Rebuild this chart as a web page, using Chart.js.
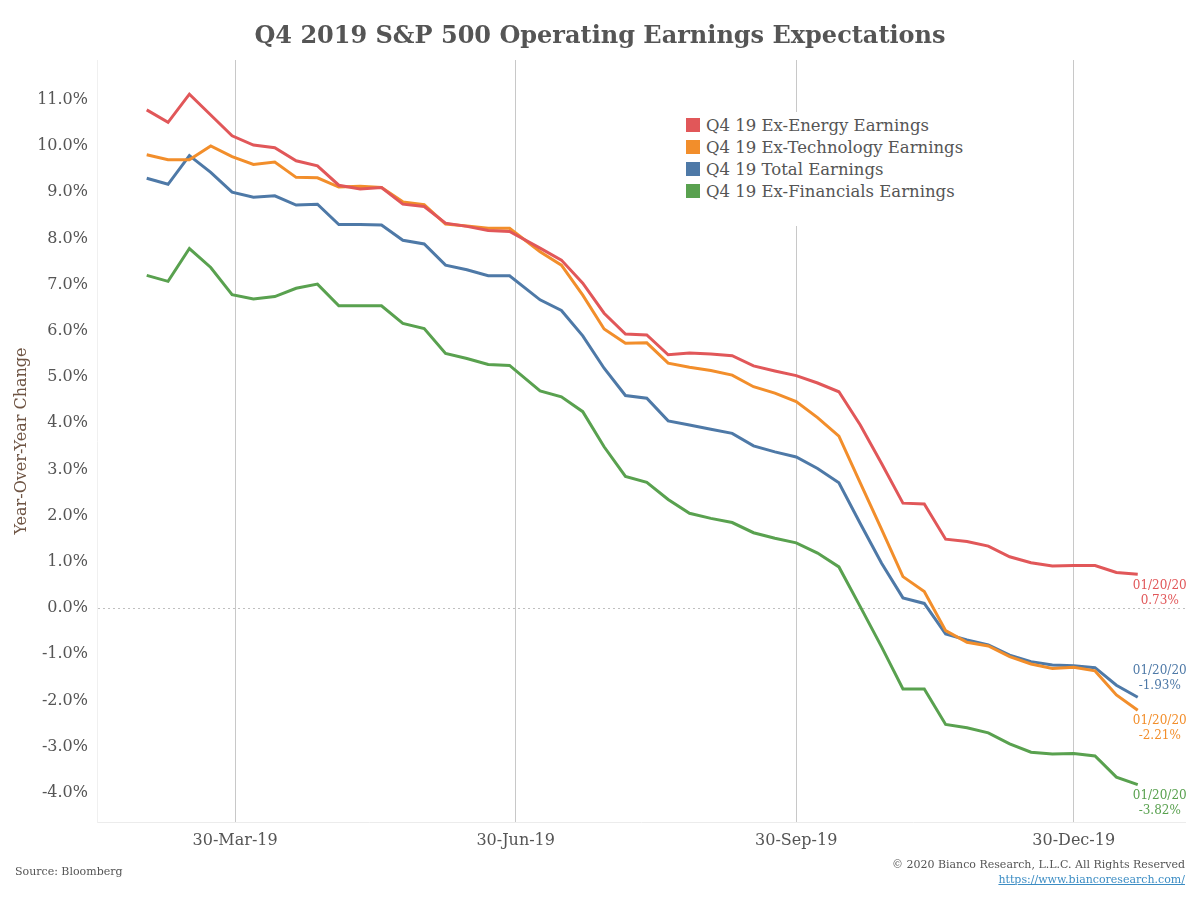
<!DOCTYPE html>
<html>
<head>
<meta charset="utf-8">
<title>Q4 2019 S&amp;P 500 Operating Earnings Expectations</title>
<script src="https://cdn.jsdelivr.net/npm/chart.js@4"></script>
<style>
  body { margin: 0; background: #fff; }
  #wrap { position: relative; width: 1200px; height: 900px; font-family: 'DejaVu Serif', serif; color: #555; }
  #title { position: absolute; top: 20px; left: 0; width: 1200px; line-height: 30px; text-align: center;
           font-weight: bold; font-size: 24px; color: #555; }
  #legend { position: absolute; left: 680px; top: 112px; width: 300px; height: 112px; background: #fff; padding-top: 2px; }
  .item { display: flex; align-items: center; height: 22px; font-size: 16.5px; margin-left: 6px; color: #555; }
  .sw { width: 14px; height: 14px; margin-right: 6px; }
  #source { position: absolute; left: 15px; top: 865px; font-size: 11px; color: #555; }
  #copy { position: absolute; right: 15px; top: 857px; font-size: 11px; color: #555; text-align: right; line-height: 15px; }
  #copy a { color: #3c8dc4; }
</style>
</head>
<body>
<div id="wrap">
  <canvas id="chart" width="1200" height="900"></canvas>
  <div id="title">Q4 2019 S&amp;P 500 Operating Earnings Expectations</div>
  <div id="legend"></div>
  <div id="source">Source: Bloomberg</div>
  <div id="copy">© 2020 Bianco Research, L.L.C. All Rights Reserved<br><a href="#">https://www.biancoresearch.com/</a></div>
</div>
<script>
// --- DONNÉES ---
const dates = [
  '2019-03-01', '2019-03-08', '2019-03-15', '2019-03-22', '2019-03-29', '2019-04-05', '2019-04-12', '2019-04-19',
  '2019-04-26', '2019-05-03', '2019-05-10', '2019-05-17', '2019-05-24', '2019-05-31', '2019-06-07', '2019-06-14',
  '2019-06-21', '2019-06-28', '2019-07-08', '2019-07-15', '2019-07-22', '2019-07-29', '2019-08-05', '2019-08-12',
  '2019-08-19', '2019-08-26', '2019-09-02', '2019-09-09', '2019-09-16', '2019-09-23', '2019-09-30', '2019-10-07',
  '2019-10-14', '2019-10-21', '2019-10-28', '2019-11-04', '2019-11-11', '2019-11-18', '2019-11-25', '2019-12-02',
  '2019-12-09', '2019-12-16', '2019-12-23', '2019-12-30', '2020-01-06', '2020-01-13', '2020-01-20'
];

const exEnergy = [
  10.78, 10.51, 11.12, 10.67, 10.22, 10.02, 9.96, 9.68, 9.57, 9.15, 9.07, 9.10, 8.74, 8.69, 8.33,
  8.26, 8.17, 8.15, 7.79, 7.53, 7.03, 6.38, 5.93, 5.91, 5.48, 5.52, 5.50, 5.46, 5.24, 5.13, 5.03, 4.87,
  4.68, 3.96, 3.13, 2.27, 2.25, 1.49, 1.44, 1.34, 1.11, 0.98, 0.91, 0.92, 0.92, 0.77, 0.73
];
const exTech = [
  9.81, 9.70, 9.70, 10.00, 9.77, 9.60, 9.65, 9.32, 9.31, 9.11, 9.13, 9.10, 8.79, 8.73, 8.31,
  8.27, 8.22, 8.22, 7.71, 7.42, 6.77, 6.04, 5.73, 5.74, 5.30, 5.21, 5.14, 5.04, 4.79, 4.65, 4.47, 4.12,
  3.72, 2.71, 1.70, 0.68, 0.36, -0.49, -0.74, -0.82, -1.05, -1.21, -1.31, -1.28, -1.36, -1.88, -2.21
];
const total = [
  9.30, 9.17, 9.79, 9.43, 9.00, 8.89, 8.92, 8.72, 8.74, 8.30, 8.30, 8.29, 7.96, 7.88, 7.42,
  7.32, 7.19, 7.19, 6.67, 6.44, 5.89, 5.19, 4.60, 4.54, 4.05, 3.96, 3.87, 3.78, 3.51, 3.38, 3.27, 3.02,
  2.71, 1.83, 0.97, 0.22, 0.10, -0.56, -0.69, -0.80, -1.02, -1.16, -1.23, -1.25, -1.29, -1.67, -1.93
];
const exFin = [
  7.20, 7.07, 7.78, 7.37, 6.78, 6.69, 6.74, 6.92, 7.01, 6.54, 6.54, 6.54, 6.16, 6.05, 5.51,
  5.40, 5.27, 5.25, 4.70, 4.57, 4.25, 3.49, 2.85, 2.72, 2.35, 2.05, 1.94, 1.85, 1.63, 1.51, 1.41, 1.19,
  0.89, 0.03, -0.84, -1.75, -1.75, -2.52, -2.59, -2.70, -2.94, -3.12, -3.16, -3.15, -3.20, -3.66, -3.82
];

const seriesNames = ['Q4 19 Ex-Energy Earnings', 'Q4 19 Ex-Technology Earnings', 'Q4 19 Total Earnings', 'Q4 19 Ex-Financials Earnings'];
const seriesValues = [exEnergy, exTech, total, exFin];
const seriesColors = ['#e15759', '#f28e2b', '#4e79a7', '#59a14f'];

const xTickDates = ['2019-03-30', '2019-06-30', '2019-09-30', '2019-12-30'];
const xTickLabels = ['30-Mar-19', '30-Jun-19', '30-Sep-19', '30-Dec-19'];
const yTicks = [-4, -3, -2, -1, 0, 1, 2, 3, 4, 5, 6, 7, 8, 9, 10, 11];
const endDateLabel = '01/20/20';

// décalage vertical des étiquettes de fin (bleu au-dessus pour éviter l'orange)
const endLabelShift = [12, 11, -26, 11];

// jours depuis le 1er janvier 2019
function dayNum(s) {
  const [y, m, d] = s.split('-').map(Number);
  return (Date.UTC(y, m - 1, d) - Date.UTC(2019, 0, 1)) / 86400000;
}

const SERIF = "'DejaVu Serif', serif";

// --- LÉGENDE ---
const legend = document.getElementById('legend');
seriesNames.forEach((name, k) => {
  const row = document.createElement('div');
  row.className = 'item';
  row.innerHTML = `<span class="sw" style="background:${seriesColors[k]}"></span>${name}`;
  legend.appendChild(row);
});

// --- ÉTIQUETTES DE FIN ---
const endLabels = {
  id: 'endLabels',
  afterDatasetsDraw(chart) {
    const ctx = chart.ctx;
    ctx.save();
    ctx.font = `12px ${SERIF}`;
    ctx.textAlign = 'center';
    ctx.textBaseline = 'middle';
    chart.data.datasets.forEach((ds, k) => {
      const meta = chart.getDatasetMeta(k);
      const pt = meta.data[meta.data.length - 1];
      const last = ds.data[ds.data.length - 1].y;
      ctx.fillStyle = seriesColors[k];
      ctx.fillText(endDateLabel, pt.x + 22, pt.y + endLabelShift[k]);
      ctx.fillText(last.toFixed(2) + '%', pt.x + 22, pt.y + endLabelShift[k] + 15);
    });
    ctx.restore();
  }
};

// --- CHART ---
new Chart(document.getElementById('chart'), {
  type: 'line',
  data: {
    datasets: seriesValues.map((vals, k) => ({
      label: seriesNames[k],
      data: dates.map((d, i) => ({ x: dayNum(d), y: vals[i] })),
      borderColor: seriesColors[k],
      backgroundColor: seriesColors[k],
      borderWidth: 3,
      pointRadius: 0,
      tension: 0
    }))
  },
  options: {
    responsive: false,
    animation: false,
    layout: { padding: { top: 60, right: 15, bottom: 0, left: 0 } },
    plugins: { legend: { display: false }, tooltip: { enabled: false } },
    scales: {
      x: {
        type: 'linear',
        min: 42.7,
        max: 399.5,
        afterBuildTicks: (scale) => { scale.ticks = xTickDates.map(d => ({ value: dayNum(d) })); },
        afterFit: (scale) => { scale.height = 78; },
        ticks: {
          padding: 9,
          color: '#555',
          font: { family: SERIF, size: 16 },
          maxRotation: 0,
          callback: (v, i) => xTickLabels[i]
        },
        grid: { color: '#c8c8c8', lineWidth: 1, drawTicks: false },
        border: { display: true, color: '#ececec' }
      },
      y: {
        min: -4.63,
        max: 11.86,
        afterBuildTicks: (scale) => { scale.ticks = yTicks.map(v => ({ value: v })); },
        afterFit: (scale) => { scale.width = 97; },
        ticks: {
          padding: 9,
          color: '#555',
          font: { family: SERIF, size: 16 },
          callback: (v) => v.toFixed(1) + '%'
        },
        grid: {
          drawTicks: false,
          color: (c) => (c.tick && c.tick.value === 0 ? '#c0c0c0' : 'rgba(0,0,0,0)'),
          lineWidth: 1
        },
        border: { display: true, color: '#f0f0f0', dash: [2, 3] },
        title: {
          display: true,
          text: 'Year-Over-Year Change',
          color: '#6e5443',
          font: { family: SERIF, size: 16 },
          padding: { top: 12, bottom: 0 }
        }
      }
    }
  },
  plugins: [endLabels]
});
</script>
</body>
</html>
